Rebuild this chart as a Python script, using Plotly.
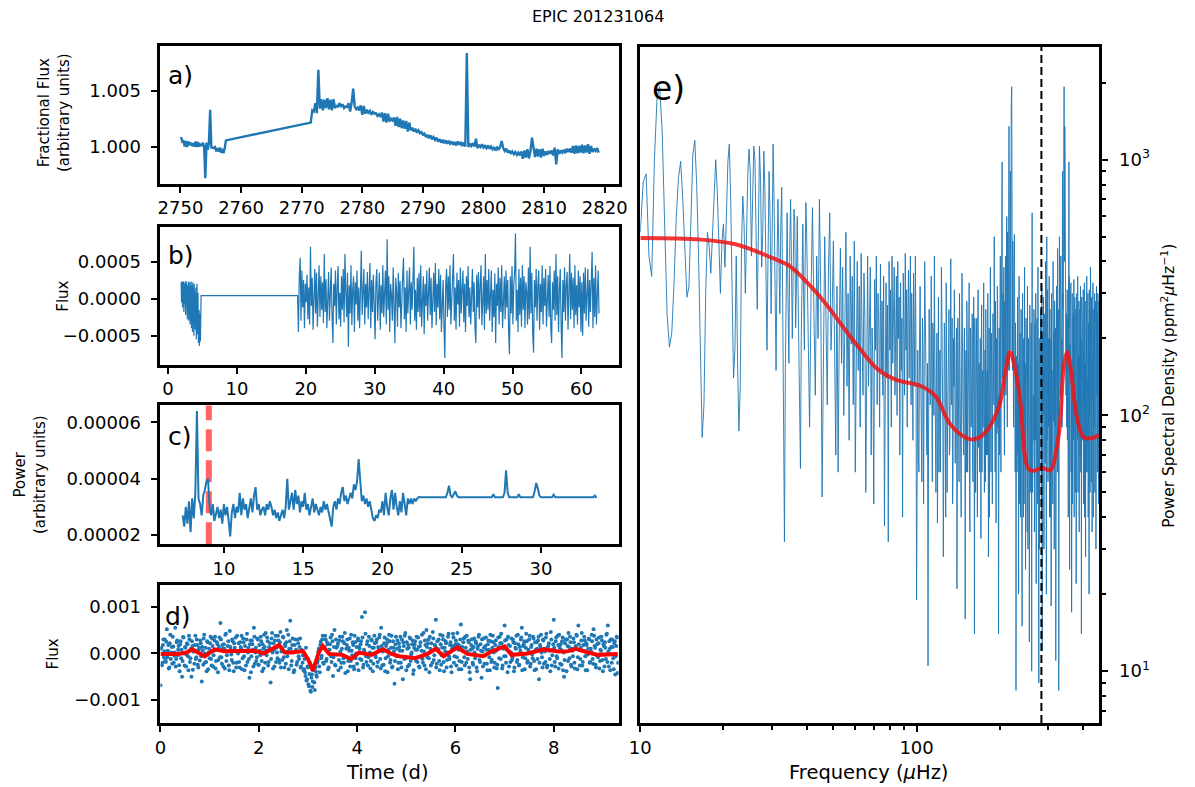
import numpy as np
import plotly.graph_objects as go

W, H = 1195, 787
BLUE = "#1f77b4"
FONT = "DejaVu Sans"

# ---------------- a) raw light curve (flux - 1, in ppm) ----------------
a_seg1_start, a_seg1_step = 2750.1, 0.2
a_seg1_ppm = [850, 450, 550, 0, 500, -50, 450, 150, 350, 50,
              300, 0, 450, -50, 400, 0, 250, 50, 350, 0,
              -2850, 350, -300, 350, 3300, -100, -100, -150, -50, -350,
              -250, -450, -100, -550, -200, -600, -150, 550]
a_seg2_start, a_seg2_step = 2771.5, 0.25
a_seg2_ppm = [2150, 3250, 3150, 3900, 3000, 6900, 3400, 4250, 3250, 4200,
              3450, 4350, 3350, 4200, 3250, 4250, 3450, 3650, 3600, 3900,
              3550, 3800, 3450, 3600, 3550, 3900, 3150, 3950, 5200, 3600,
              3350, 3500, 3250, 3700, 2850, 3650, 2950, 3300, 3050, 3200,
              2850, 3100, 2950, 3000, 2750, 2900, 2650, 3050, 2250, 3000,
              2150, 2950, 2250, 2500, 2350, 2600, 1850, 2650, 1750, 2500,
              1650, 2350, 1600, 2300, 1350, 2150, 1450, 1700, 1350, 1600,
              1250, 1450, 1200, 1300, 1050, 1150, 850, 1050, 750, 1000,
              650, 850, 600, 800, 450, 650, 350, 600, 300, 550,
              250, 500, 250, 450, 150, 400, 100, 450, 150, 400,
              50, 350, 0, 8400, -50, 250, 50, 300, 0, 700,
              -150, 150, -50, 200, -100, 50, -150, 100, -200, 0,
              -250, -50, -350, -100, -300, 0, 500, -150, -400, -200,
              -550, -350, -650, -450, -700, -500, -750, -550, -800, -450,
              -1100, -350, -1000, -250, -1050, -400, 800, -300, -950, -200,
              -900, -250, -1000, -200, -850, -450, -750, -400, -650, -350,
              -800, -100, -1600, -250, -650, -350, -550, -300, -600, -200,
              -500, -200, -550, 50, -650, 100, -600, 50, -550, 150,
              -600, 100, -550, 200, -650, 50, -500, -200, -400, -150,
              -550]

# ---------------- b) detrended flux (units of 1e-5) ----------------
b_seg1_start, b_seg1_step = 1.9, 0.05
b_seg1_flux = [22, -5, 23, 10, -12, 22, 0, 23, -18, 20,
               8, -8, 23, -22, 15, 23, -10, 22, -28, 18,
               5, 23, -30, 12, -15, 22, -35, 20, -5, 23,
               -40, 10, 18, -45, 22, -20, 5, -50, 20, -35,
               12, -42, 0, 15, -55, -10, 20, -48, -25, 8,
               -60, -30, -15, -64, -40, -20, -58, -35, 4]
b_seg2_start, b_seg2_step = 18.8, 0.125
b_seg2_flux = [4,
               -45, 30, 55, -30, 38, -12, 25, -40, 20, -5,
               32, -28, 15, -35, 70, -10, 28, -42, 18, 40,
               -20, 35, -38, 10, 45, -25, 30, -15, 22, -33,
               60, -18, 26, -40, 12, 36, -30, 5, 42, -22,
               -60, 20, -10, 38, -35, 15, 44, -28, 8, -38,
               30, -15, 40, -32, 60, 10, -25, 35, -65, 18,
               -20, 45, -36, 12, 30, -45, 22, -8, 38, -30,
               15, -40, 28, 65, -22, 10, 40, -35, 20, -12,
               36, -28, 14, 48, -40, 25, -18, 32, -10, -55,
               22, 40, -30, 8, 35, -42, 18, -20, 45, -25,
               12, 38, -35, 80, -15, 30, -45, 20, 5, -30,
               42, -22, -60, 28, 10, -38, 35, -12, 24, -40,
               18, 30, 55, -28, 15, -45, 38, -20, 10, 42,
               -35, 22, -15, 40, 70, -30, 12, -42, 28, -18,
               35, -25, 45, -38, 8, 30, -48, 20, -10, 38,
               -30, 15, 42, -22, 28, -40, 10, 35, -18, 48,
               -36, 20, -12, 40, -28, 32, -45, 15, 25, -38,
               -80, 18, 40, -25, 30, -15, 45, -35, 10, 28,
               60, -30, 15, -42, 35, -8, 25, -38, 42, -20,
               12, 38, -32, 20, -45, 30, -10, 44, -25, 15,
               -35, 28, 40, -18, 22, -40, -60, 32, -12, 36,
               -28, 18, 45, -36, 10, 30, -42, 60, -20, 25,
               -15, 40, -30, 22, 38, -45, 12, -25, 34, -60,
               20, -10, 42, -35, 28, -18, 45, -40, 15, 30,
               -28, 38, -12, 25, -42, -75, 30, -20, 44, -35,
               18, 35, 88, -30, 12, -45, 40, -22, 28, -38,
               45, -15, 30, -40, 22, 10, -35, 42, -28, 70,
               -20, 35, -45, -73, 25, -12, 40, -30, 18, 38,
               -42, 20, -18, 45, -35, 28, -10, 40, -38, 15,
               32, -25, 44, -40, -60, 22, -15, 38, -30, 60,
               -22, 30, -45, 12, 40, -35, -80, 25, -18, 42,
               -30, 20, 36, -42, 10, 60, -28, 35, -15, 28,
               -40, 45, -22, 18, -35, 38, -12, 30, -45, 22,
               -50, 35, -20, 42, -30, 15, 40, -38, 25, -18,
               32, 63, -40, 28, -25, 45, -35, 18, 38, -20]

# ---------------- c) BLS-like power vs period (units of 1e-6) ----------------
c_start, c_step = 7.4, 0.1
c_power = [27, 23, 30, 24, 32, 21, 33, 26, 35, 64,
           33, 31, 27, 34, 36, 39, 40, 30, 27, 31,
           25, 28, 30, 26, 29, 24, 31, 27, 30, 25,
           19.5, 28, 31, 26, 30, 28, 35, 27, 33, 29,
           31, 26, 30, 33, 28, 34, 37, 29, 31, 27,
           29, 30, 27, 31, 29, 32, 30, 27, 29, 26,
           28, 25, 27, 29, 26, 30, 40, 29, 32, 35,
           29, 36, 31, 34, 28, 32, 30, 35, 29, 31,
           27, 30, 33, 28, 31, 29, 27, 30, 28, 32,
           29, 31, 28, 26, 23, 30, 32, 29, 33, 31,
           35, 37, 32, 34, 31, 33, 35, 33, 38, 36,
           39, 47, 38, 32, 34, 31, 33, 30, 32, 29,
           26, 25, 27, 26, 29, 28, 32, 27, 35, 30,
           27, 33, 36, 29, 35, 30, 27, 32, 28, 35,
           30, 27, 33, 31, 33, 31, 33, 32, 33, 33.5,
           33.4, 33.4, 33.4, 33.4, 33.4, 33.4, 33.4, 33.4, 33.4, 33.4,
           33.4, 33.4, 33.4, 33.4, 33.4, 33.4, 33.4, 35, 37.5, 34,
           33.4, 34.5, 35.5, 34, 33.4, 33.4, 33.4, 33.4, 33.4, 33.4,
           33.4, 33.4, 33.4, 33.4, 33.4, 33.4, 33.4, 33.4, 33.4, 33.4,
           33.4, 33.4, 33.4, 33.4, 33.4, 33.4, 34.5, 33.4, 33.4, 33.4,
           33.4, 33.4, 33.4, 35, 43, 35, 33.4, 33.4, 33.4, 33.4,
           33.4, 33.4, 34.5, 33.4, 33.4, 33.4, 33.4, 33.4, 33.4, 33.4,
           33.4, 33.4, 35.5, 38.5, 36.5, 34, 33.4, 33.4, 33.4, 33.4,
           33.4, 33.4, 33.4, 33.4, 34.3, 33.4, 33.4, 33.4, 33.4, 33.4,
           33.4, 33.4, 33.4, 33.4, 33.4, 33.4, 33.4, 33.4, 33.4, 33.4,
           33.4, 33.4, 33.4, 33.4, 33.4, 33.4, 33.4, 33.4, 33.4, 33.4,
           34, 33.2]
c_best_period = 9.05

# ---------------- d) folded light curve (units of 1e-5) ----------------
d_step = 0.02
d_flux = [-68, 12, -20, 30, 5, -15, 25, -8, 18, -30, 40, 2, -22, 15, -5, 55, -12, 28, 8, -25,
          20, -10, -50, 35, 0, 14, -28, 22, -6, 38, -18, 10, 26, -35, 4, 18, -12, 30, -24, 9,
          -15, 22, -60, 6, 32, -20, 12, -38, 24, 2, -10, 36, -26, 16, -4, 28, -32, 8, 20, -14,
          34, 65, -8, 18, -28, 10, 40, -16, 4, 26, -36, 14, -2, 30, -20, 22, 6, -30, 38, 0,
          -18, 24, 10, -34, 32, -6, 16, -26, 42, 2, -12, 20, -40, 28, 8, 55, -22, 12, -8, 30,
          -24, 6, 36, -16, 20, -32, 14, 44, -4, 26, -18, 10, -62, 32, 2, 22, -28, 38, 12, -10,
          28, -20, 46, 4, -14, 34, -30, 16, 24, -6, 40, 10, 70, -26, 18, 2, -36, 30, 8, -18,
          22, -12, 32, -28, 6, -4, -34, -40, 12, -55, -30, -70, -20, -82, -45, -60, -25, -78, -38, -50,
          -15, 10, -40, 25, -5, 38, -22, 14, 30, -12, 20, -30, 8, 34, -18, 26, -8, 50, -26, 12,
          16, -36, 28, 4, -20, 36, -10, 22, -42, 10, 30, -16, 6, -28, 40, -4, 18, -34, 24, 0,
          -22, 32, 14, -12, 26, 78, -30, 8, 88, -6, 20, -26, 36, 2, -16, 28, -38, 12, 22, -8,
          30, -18, 10, 40, -32, 16, 4, -24, 34, -10, 22, -40, 8, 26, -14, 38, -28, 12, -65, 20,
          -6, 28, -20, 14, 36, -30, 6, 24, -12, 44, -36, 10, 18, -24, 32, -2, 20, -44, 12, 26,
          -16, 8, 34, -28, 16, -8, 40, -20, 4, 28, -34, 14, 22, -10, 36, -26, 6, 46, -14, 18,
          72, -22, 10, 30, -36, 20, -4, 38, -18, 12, 26, -30, 2, 42, -12, 24, -40, 16, 34, -6,
          20, -26, 44, 8, -16, 30, -34, 14, 24, -8, 36, -20, 4, 28, -30, -55, 18, 10, -24, 32,
          -10, 22, -38, 16, 40, -18, 6, 30, -28, 12, -4, 34, -22, 20, 8, -36, 26, -14, 38, 2,
          -20, 28, -32, -74, 14, 36, -12, 22, -26, 10, 60, -6, 30, -40, 18, 4, -18, 32, -8, 24,
          -30, 12, 38, -14, 20, -24, 6, 34, -36, 16, 26, -10, 42, -20, 8, 30, -28, 14, -2, 36,
          -16, 24, -34, 10, 28, -55, 18, 40, -8, 30, -22, 4, 34, -30, 14, 22, -12, 46, -26, 8,
          72, -18, 26, -6, 38, -32, 12, 20, -24, 34, 2, -14, 30, -38, 16, 44, -10, 24, -28, 6,
          32, -20, 14, 40, -34, 60, 8, -12, 28, -26, 18, 36, -6, 22, -36, 10, 30, -18, 4, 26,
          -22, 38, 12, -30, 20, -8, 34, -16, 6, 28, -38, 16, 24, -12, 42, 60, -28, 10, 30, -20,
          14, -34, 26, -6, 36, -42]
# second set of folded points, sitting half a step later in phase
d_offset = 0.01
d_flux2 = [10, -25, 18, -8, 30, -18, 52, 6, -32, 22, -12, 14, 36, -20, 2, -28, 24, -4, 16, -38,
           26, 8, -16, 34, -26, 12, -2, 20, -36, 30, -10, -50, 16, 4, -22, 38, -8, 18, -30, 12,
           28, -6, 14, -24, 40, 0, -18, 26, -34, 10, 22, -12, 32, -28, 6, 36, -16, 24, -40, 14,
           -8, 30, -22, 10, 20, -32, 42, -4, 16, -26, 48, 8, -14, 26, -38, 12, 34, -20, 4, 22,
           -30, 14, 38, -10, 24, -36, 6, 30, -18, 12, -52, 28, -6, 20, -28, 36, 2, -16, 32, -24,
           18, -4, 26, -38, 10, 40, -20, 6, 34, -26, 14, 22, -12, 44, -32, 8, 28, -18, 2, 38,
           -14, 24, -30, 12, 36, -8, 20, -22, 50, 4, -34, 26, 10, -16, 32, -40, 18, 6, -24, 30,
           -6, 14, -30, 8, -20, -36, -12, -48, -58, -28, -66, -44, -80, -52, -72, -36, -62, -30, -46, -20,
           4, -28, 18, -10, 30, -20, 12, 38, -16, 24, -34, 8, 20, -6, 40, -48, 14, -24, 30, -2,
           22, -14, 36, -30, 10, 26, -20, 44, -8, 18, -38, 12, 32, -16, 6, 24, -28, 38, -10, 14,
           28, -36, 10, 20, -14, 34, -24, 4, 42, -18, 26, -8, 16, -32, 30, 12, -22, 38, -4, 24,
           -28, 14, 34, -12, 55, -26, 8, 22, -38, 16, 30, -6, 40, -20, 12, -30, 26, 4, -16, 36,
           10, -34, 22, 6, -20, 30, -55, 16, 38, -10, 24, -28, 12, 34, -16, 2, 28, -36, 20, 8,
           36, -18, 14, -30, 24, 6, -12, 44, -26, 18, 50, -8, 30, -40, 10, 22, -20, 32, -4, 16,
           -30, 26, 8, -16, 40, -24, 12, 30, -38, 4, 22, -14, 36, -6, 18, -28, 10, 42, -20, 14,
           28, -8, 20, -34, 16, 62, -18, 6, 32, -26, 12, 38, -12, 24, -40, 8, 30, -20, 14, 2,
           26, -30, 10, 36, -14, 20, -52, 4, 32, -22, 16, 8, -36, 28, -8, 40, -18, 12, 24, -30,
           18, 6, -24, 34, -10, 22, 42, -32, 14, -6, 28, -20, 8, 36, -28, 16, 2, -14, 30, -38,
           22, 10, -18, 40, -26, 14, 30, 55, -8, 20, -34, 12, 26, -16, 4, 38, -22, 18, -10, 32,
           -36, 8, 24, -12, 36, -20, 14, 2, -30, 28, 10, -18, 42, -26, 16, 6, -38, 30, -4, 20,
           12, -28, 34, -10, 18, 40, -22, 8, 26, -36, -50, 22, 4, 30, -16, 14, 36, -24, 10, -6,
           24, -32, 16, 38, -8, 20, -26, 12, 44, -18, 6, 28, -36, 18, -2, 32, -20, 10, 40, -12,
           52, 16, -24, 30, -6, 22, -32, 8, 36, -14, 20, -28, 12, 40, -18, 4, 26, -36, 14, 30,
           -10, 22, -45, 16, 34, -20]
d_bin_time = [0.0, 0.35, 0.53, 0.65, 0.9, 1.1, 1.3, 1.6, 1.92, 2.1,
              2.33, 2.41, 2.53, 2.65, 2.9, 3.0, 3.1, 3.22, 3.3, 3.43,
              3.7, 3.88, 4.04, 4.29, 4.53, 4.7, 4.86, 5.18, 5.43, 5.6,
              5.76, 5.92, 6.04, 6.24, 6.57, 6.73, 7.0, 7.14, 7.47, 7.8,
              8.1, 8.3, 8.45, 8.7, 8.9, 9.3]
d_bin_flux = [-1, -1, 2, 9, -6, 9, 5, 6, 6, 0,
              13, 18, 2, 2, 5, -12, -37, 2, 16, -1,
              -3, -12, 2, -3, 9, -1, -6, -10, -1, 10,
              -6, 5, 13, -1, -6, 4, 15, -3, 0, 9,
              4, 5, 10, 2, -3, -1]

# ---------------- e) power spectrum (ppm^2/uHz) ----------------
e_segA_start, e_segA_step = 10.0, 0.25
e_segA_psd = [520, 820, 880, 420, 350, 1000, 1750, 1930, 1300, 560, 250, 185,
              210, 330, 600, 850, 985, 700, 420, 290, 320, 650, 1050, 1190,
              800, 420, 160, 82, 110, 300, 520, 460, 360, 520, 800, 1000,
              750, 420, 300, 480, 560, 380, 620, 980, 1150, 700, 300, 140,
              180, 420, 160, 87, 130, 460, 720, 560, 300, 520, 880, 1100,
              900, 420, 700, 1130, 1000, 520, 260, 500, 1130, 820, 380, 520,
              1080, 760, 300, 180, 420, 900, 600, 250, 480, 1150, 680, 300,
              150, 380, 700, 420, 250, 560, 780, 300, 60, 32, 150, 480,
              620, 280, 160, 460, 700, 400, 200, 350, 640, 560, 220, 330,
              600, 300, 140, 100, 62, 200, 450, 560, 300, 180, 400, 680]
e_segB_start, e_segB_step = 40.0, 0.5
e_segB_psd = [520, 180, 90, 300, 650, 260, 120, 420, 200, 700,
              300, 48, 150, 500, 240, 110, 380, 620, 180, 260,
              480, 140, 70, 320, 60, 210, 450, 160, 380, 100,
              250, 520, 130, 300, 80, 420, 190, 350, 110, 480,
              60, 270, 400, 150, 320, 90, 430, 200, 120, 360,
              240, 50, 300, 420, 130, 260, 380, 70, 220, 160,
              45, 340, 180, 420, 110, 300, 230, 90, 390, 150,
              280, 120, 350, 37, 200, 330, 140, 270, 32, 400,
              180, 310, 90, 420, 160, 260, 380, 120, 230, 350,
              100, 400, 200, 290, 70, 330, 150, 240, 40, 360,
              210, 120, 430, 180, 310, 90, 260, 370, 140, 230,
              420, 110, 300, 190, 80, 360, 250, 130, 420, 180]
e_segC_start, e_segC_step = 100.0, 1.0
e_segC_psd = [19, 180, 60, 320, 90, 240, 45, 400, 130, 70,
              10.5, 260, 110, 350, 55, 200, 420, 80, 150, 38,
              290, 120, 60, 380, 170, 28, 230, 90, 330, 50,
              140, 260, 75, 410, 110, 45, 200, 310, 65, 170,
              21, 240, 95, 300, 150, 40, 360, 120, 70, 220,
              16, 180, 280, 60, 130, 330, 35, 210, 100, 250,
              55, 290, 14, 170, 80, 240, 40, 310, 120, 60,
              200, 33, 270, 140, 90, 330, 50, 180, 260, 70,
              150, 300, 28, 220, 110, 380, 60, 170, 45, 250,
              130, 500, 75, 280, 38, 190, 320, 90, 14, 220,
              160, 420, 60, 300, 980, 250, 130, 380, 70, 200,
              420, 160, 600, 90, 380, 260, 1350, 150, 550, 300,
              1600, 1930, 200, 480, 110, 340, 510, 70, 230, 8.4,
              170, 60, 290, 120, 20, 350, 95, 210, 40, 260,
              130, 15, 300, 80, 190, 45, 380, 110, 25, 240,
              160, 60, 320, 30, 200, 90, 13, 270, 140, 50,
              230, 10, 620, 340, 70, 120, 260, 35, 190, 80,
              300, 22, 150, 240, 60, 380, 110, 9, 200, 140,
              45, 260, 170, 75, 320, 12, 210, 100, 290, 30,
              180, 250, 65, 400, 130, 20, 500, 90, 310, 55,
              200, 120, 350, 40, 260, 85, 170, 18, 300, 140,
              60, 240, 400, 95, 190, 30, 280, 130, 220, 11,
              150, 320, 70, 210, 450, 100, 260, 8.4, 180, 500,
              230, 120, 300, 420, 180, 200, 90, 500, 260, 150,
              380, 1350, 1930, 700, 1350, 300, 400, 200, 250, 150,
              200, 310, 110, 240, 40, 280, 980, 350, 25, 190,
              270, 90, 330, 160, 17, 220, 300, 60, 180, 250,
              110, 340, 40, 200, 290, 75, 150, 260, 22, 210,
              300, 95, 180, 350, 50, 240, 130, 280, 35, 170,
              260, 110, 320, 60, 200, 14, 290, 150, 230, 80,
              190, 310, 45, 250, 120, 330, 70, 220, 160, 28,
              280, 100, 200, 350, 60, 240, 140, 300, 40, 190,
              230, 20, 310, 120, 260, 80, 380, 150, 210, 55,
              290, 170, 35, 240, 110, 330, 70, 200, 260, 90,
              180, 300, 50, 230, 140, 280, 30, 210, 320, 100,
              250, 60, 190, 300, 120, 240, 45, 280, 160, 220]
# in-between bins of the high-frequency part (half a bin later)
e_segD_start, e_segD_step = 100.5, 1.0
e_segD_psd = [120, 70, 200, 150, 55, 180, 90, 260, 110, 160,
              80, 190, 140, 60, 230, 100, 170, 50, 210, 130,
              60, 180, 110, 250, 85, 150, 200, 40, 160, 95,
              190, 70, 150, 120, 240, 60, 130, 180, 90, 220,
              110, 160, 55, 200, 85, 140, 230, 70, 180, 100,
              150, 60, 200, 110, 170, 45, 220, 90, 140, 65,
              180, 100, 240, 50, 150, 120, 200, 75, 160, 110,
              90, 190, 60, 150, 230, 100, 130, 55, 200, 120,
              70, 160, 120, 40, 190, 90, 210, 130, 80, 170,
              110, 230, 60, 150, 200, 85, 260, 120, 180, 70,
              250, 90, 180, 600, 140, 300, 220, 100, 280, 160,
              120, 350, 200, 520, 150, 700, 250, 380, 900, 180,
              800, 300, 150, 260, 90, 200, 140, 60, 180, 100,
              140, 210, 70, 160, 110, 45, 190, 80, 150, 100,
              60, 170, 110, 40, 200, 130, 75, 160, 90, 140,
              110, 35, 180, 100, 150, 60, 120, 210, 55, 170,
              90, 140, 50, 200, 120, 80, 160, 40, 230, 100,
              150, 60, 190, 110, 45, 170, 90, 140, 30, 120,
              160, 80, 130, 40, 180, 100, 60, 150, 90, 200,
              70, 140, 110, 35, 170, 120, 80, 210, 60, 130,
              90, 160, 55, 180, 110, 40, 200, 130, 70, 150,
              120, 45, 170, 100, 210, 60, 140, 90, 180, 50,
              100, 190, 130, 60, 220, 150, 80, 300, 120, 250,
              160, 380, 200, 260, 140, 600, 180, 900, 300, 220,
              700, 500, 800, 400, 600, 150, 350, 120, 200, 90,
              150, 80, 200, 120, 60, 500, 220, 140, 70, 160,
              110, 190, 60, 140, 90, 170, 45, 130, 210, 80,
              160, 70, 130, 100, 190, 50, 140, 90, 170, 60,
              120, 200, 80, 140, 60, 170, 100, 40, 150, 110,
              70, 180, 120, 90, 150, 55, 160, 100, 200, 130,
              90, 140, 60, 180, 110, 40, 150, 120, 70, 170,
              130, 60, 160, 100, 190, 80, 120, 45, 150, 110,
              70, 170, 100, 140, 50, 180, 90, 130, 60, 150,
              110, 60, 150, 90, 180, 120, 40, 140, 100, 170,
              80, 130, 160, 60, 110, 190, 70, 150, 90, 120,
              140, 70, 110, 180, 60, 130, 90, 160, 75, 120]
e_model_freq = [10, 16.6, 22.3, 30, 34.8, 40.3, 46.7, 54, 62.7, 72.6, 84, 104, 117, 131,
                145, 159, 176, 199, 210, 218, 228, 237, 255, 270, 283, 295, 305, 328,
                340, 351, 362, 380, 403, 440, 459]
e_model_psd = [494, 487, 466, 413, 383, 330, 275, 223, 181, 151, 138, 130, 119, 94,
               84, 80.6, 85, 109, 150, 177, 150, 115, 61.5, 61, 62.5, 61.5, 61, 86,
               150, 177, 150, 99, 82, 82, 84]
e_numax = 283

# ---------------- build arrays ----------------
a_time = np.concatenate([a_seg1_start + a_seg1_step * np.arange(len(a_seg1_ppm)),
                         a_seg2_start + a_seg2_step * np.arange(len(a_seg2_ppm))])
a_flux = 1 + np.array(a_seg1_ppm + a_seg2_ppm) * 1e-6
b_time = np.concatenate([b_seg1_start + b_seg1_step * np.arange(len(b_seg1_flux)),
                         b_seg2_start + b_seg2_step * np.arange(len(b_seg2_flux))])
b_flux = np.array(b_seg1_flux + b_seg2_flux) * 1e-5
c_period = c_start + c_step * np.arange(len(c_power))
c_pow = np.array(c_power) * 1e-6
d_time = np.concatenate([d_step * np.arange(len(d_flux)),
                         d_offset + d_step * np.arange(len(d_flux2))])
d_f = np.array(d_flux + d_flux2) * 1e-5
d_bf = np.array(d_bin_flux) * 1e-5
e_freq = np.concatenate([e_segA_start + e_segA_step * np.arange(len(e_segA_psd)),
                         e_segB_start + e_segB_step * np.arange(len(e_segB_psd)),
                         e_segC_start + e_segC_step * np.arange(len(e_segC_psd)),
                         e_segD_start + e_segD_step * np.arange(len(e_segD_psd))])
e_psd = np.array(e_segA_psd + e_segB_psd + e_segC_psd + e_segD_psd)
order = np.argsort(e_freq)
e_freq, e_psd = e_freq[order], e_psd[order]

fig = go.Figure()
fig.add_trace(go.Scatter(x=a_time, y=a_flux, mode="lines", line=dict(color=BLUE, width=2.4),
                         xaxis="x", yaxis="y"))
fig.add_trace(go.Scatter(x=b_time, y=b_flux, mode="lines", line=dict(color=BLUE, width=1.2),
                         xaxis="x2", yaxis="y2"))
fig.add_trace(go.Scatter(x=c_period, y=c_pow, mode="lines", line=dict(color=BLUE, width=2),
                         xaxis="x3", yaxis="y3"))
fig.add_trace(go.Scatter(x=d_time, y=d_f, mode="markers", marker=dict(color=BLUE, size=4),
                         xaxis="x4", yaxis="y4"))
fig.add_trace(go.Scatter(x=d_bin_time, y=d_bf, mode="lines", line=dict(color="red", width=4),
                         xaxis="x4", yaxis="y4"))
fig.add_trace(go.Scatter(x=e_freq, y=e_psd, mode="lines", line=dict(color=BLUE, width=0.9),
                         xaxis="x5", yaxis="y5"))
fig.add_trace(go.Scatter(x=e_model_freq, y=e_model_psd, mode="lines", line_shape="spline",
                         line=dict(color="rgba(240,20,20,0.85)", width=4),
                         xaxis="x5", yaxis="y5"))

fig.add_shape(type="line", xref="x3", yref="y3 domain", x0=c_best_period, x1=c_best_period,
              y0=0, y1=1, line=dict(color="rgba(255,60,60,0.8)", width=6, dash="22px,9px"),
              layer="below")
fig.add_shape(type="line", xref="x5", yref="y5 domain", x0=e_numax, x1=e_numax,
              y0=0, y1=1, line=dict(color="black", width=2, dash="8px,4px"))


def px(x):
    return x / W


def py(y):
    return 1 - y / H


ax = dict(showline=True, mirror=True, linecolor="black", linewidth=3, ticks="outside",
          ticklen=6, tickwidth=2, tickcolor="black", showgrid=False, zeroline=False,
          tickfont=dict(size=18, color="black", family=FONT))
yax = dict(ax, ticklabelstandoff=7)

fig.update_layout(
    width=W, height=H, margin=dict(l=0, r=0, t=0, b=0),
    plot_bgcolor="white", paper_bgcolor="white", showlegend=False,
    font=dict(family=FONT, color="black"),
    xaxis=dict(ax, domain=[px(152), px(618)], anchor="y", range=[2746.7, 2822.3], dtick=10),
    yaxis=dict(yax, domain=[py(184), py(46)], anchor="x", range=[0.99665, 1.00904],
               tickvals=[1.0, 1.005], ticktext=["1.000", "1.005"]),
    xaxis2=dict(ax, domain=[px(152), px(618)], anchor="y2", range=[-1.1, 65.4], dtick=10),
    yaxis2=dict(yax, domain=[py(365), py(227)], anchor="x2", range=[-0.00089, 0.00097],
                tickvals=[-0.0005, 0, 0.0005], ticktext=["\u22120.0005", "0.0000", "0.0005"]),
    xaxis3=dict(ax, domain=[px(152), px(618)], anchor="y3", range=[6.0, 34.9], dtick=5),
    yaxis3=dict(yax, domain=[py(545), py(406)], anchor="x3", range=[0.0000167, 0.000066],
                tickvals=[0.00002, 0.00004, 0.00006],
                ticktext=["0.00002", "0.00004", "0.00006"]),
    xaxis4=dict(ax, domain=[px(152), px(618)], anchor="y4", range=[0, 9.32], dtick=2),
    yaxis4=dict(yax, domain=[py(724), py(586)], anchor="x4", range=[-0.00149, 0.00146],
                tickvals=[-0.001, 0, 0.001], ticktext=["\u22120.001", "0.000", "0.001"]),
    xaxis5=dict(ax, domain=[px(640), px(1107)], anchor="y5", type="log", range=[1, 2.662],
                tickvals=[10, 100], ticktext=["10", "100"],
                minor=dict(ticks="outside", ticklen=4, tickwidth=2, tickcolor="black",
                           tickvals=[20, 30, 40, 50, 60, 70, 80, 90, 200, 300, 400])),
    yaxis5=dict(yax, domain=[py(724), py(47)], anchor="x5", type="log", side="right",
                range=[0.797, 3.441], tickvals=[10, 100, 1000],
                ticktext=["10<sup>1</sup>", "10<sup>2</sup>", "10<sup>3</sup>"],
                minor=dict(ticks="outside", ticklen=4, tickwidth=2, tickcolor="black",
                           tickvals=[7, 8, 9, 20, 30, 40, 50, 60, 70, 80, 90,
                                     200, 300, 400, 500, 600, 700, 800, 900, 2000])),
)


def note(text, x, y, size, angle=0, anchor="center"):
    fig.add_annotation(text=text, x=px(x), y=py(y), xref="paper", yref="paper",
                       showarrow=False, textangle=angle, xanchor=anchor, yanchor="middle",
                       font=dict(size=size, color="black", family=FONT))


note("EPIC 201231064", 597, 17, 16)
note("a)", 158, 76, 25, anchor="left")
note("b)", 158, 256, 25, anchor="left")
note("c)", 158, 437, 25, anchor="left")
note("d)", 155, 617, 25, anchor="left")
note("e)", 650, 89, 33, anchor="left")
note("Fractional Flux<br>(arbitrary units)", 44, 113, 15, angle=-90)
note("Flux", 53, 297, 15, angle=-90)
note("Power<br>(arbitrary units)", 20, 475, 15, angle=-90)
note("Flux", 43, 655, 15, angle=-90)
note("Time (d)", 383, 773, 19.5)
note("Frequency (<i>\u03bc</i>Hz)", 872, 773, 19.5)
note("Power Spectral Density (ppm<sup>2</sup><i>\u03bc</i>Hz<sup>\u22121</sup>)", 1177, 386, 15.5,
     angle=-90)

fig.write_html("out.html", config={"displayModeBar": False},
               post_script="document.body.style.margin = '0px';")
